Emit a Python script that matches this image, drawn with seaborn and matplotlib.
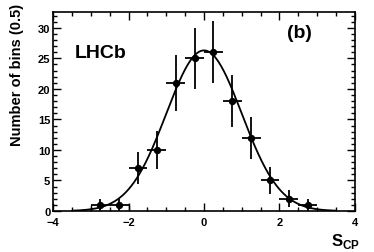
import numpy as np
import pandas as pd
import matplotlib
matplotlib.use("Agg")
import matplotlib.pyplot as plt
from matplotlib.ticker import MultipleLocator
import seaborn as sns

# Histogram of S_CP, bins of 0.5
bin_centers = [-2.75, -2.25, -1.75, -1.25, -0.75, -0.25, 0.25, 0.75, 1.25, 1.75, 2.25, 2.75]
counts = [1, 1, 7, 10, 21, 25, 26, 18, 12, 5, 2, 1]
bin_width = 0.5

# Gaussian fit parameters
fit_amp = 26.3
fit_mean = 0.0
fit_sigma = 1.0
fit_range = (-3.5, 3.5)

df = pd.DataFrame({"x": bin_centers, "n": counts})
df["err"] = np.sqrt(df["n"])

xs = np.linspace(fit_range[0], fit_range[1], 300)
fit = pd.DataFrame({"x": xs,
                    "y": fit_amp * np.exp(-0.5 * ((xs - fit_mean) / fit_sigma) ** 2)})

sns.set_style("ticks", {"axes.edgecolor": "black", "text.color": "black",
                        "xtick.color": "black", "ytick.color": "black",
                        "axes.labelcolor": "black"})
plt.rcParams["font.family"] = ["Liberation Sans", "DejaVu Sans"]
plt.rcParams["font.weight"] = "bold"

fig = plt.figure(figsize=(3.74, 2.53), dpi=100)
ax = fig.add_axes([0.142, 0.162, 0.807, 0.787])

sns.lineplot(data=fit, x="x", y="y", color="black", linewidth=1.3, ax=ax)
ax.errorbar(df["x"], df["n"], yerr=df["err"], xerr=bin_width / 2, fmt="none",
            ecolor="black", elinewidth=1.3, capsize=0)
sns.scatterplot(data=df, x="x", y="n", color="black", s=28, edgecolor="black",
                linewidth=0, zorder=5, ax=ax)

# low bin edges drawn as a small box (as in the original)
ax.vlines([bin_centers[0] - bin_width / 2, bin_centers[1] + bin_width / 2], 0, counts[0],
          color="black", linewidth=1.0)

ax.set_xlim(-4, 4)
ax.set_ylim(0, 32.6)
ax.xaxis.set_major_locator(MultipleLocator(2))
ax.xaxis.set_minor_locator(MultipleLocator(0.5))
ax.yaxis.set_major_locator(MultipleLocator(5))
ax.yaxis.set_minor_locator(MultipleLocator(1))
ax.tick_params(which="both", direction="in", top=True, right=True, labelsize=8,
               width=1, colors="black")
ax.tick_params(which="major", length=6)
ax.tick_params(which="minor", length=3)
ax.tick_params(axis="x", which="major", pad=4.5)
ax.tick_params(axis="y", which="major", pad=2)
for s in ax.spines.values():
    s.set_linewidth(1.2)
    s.set_color("black")

ax.set_xlabel("")
ax.set_ylabel("")
fig.text(0.045, 0.985, "Number of bins (0.5)", rotation=90, ha="center", va="top",
         fontsize=10.5, fontweight="bold")
fig.text(0.963, 0.008, r"S$_{\mathregular{CP}}$", ha="right", va="bottom",
         fontsize=12, fontweight="bold")

ax.text(-3.42, 26.0, "LHCb", fontsize=14, fontweight="bold", va="center", ha="left")
ax.text(2.2, 29.3, "(b)", fontsize=14, fontweight="bold", va="center", ha="left")

fig.savefig("out.png", dpi=100)
